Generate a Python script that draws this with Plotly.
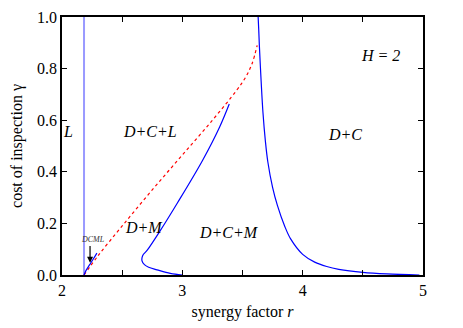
import plotly.graph_objects as go

# L boundary (vertical)
l_r = [2.183, 2.183]
l_g = [0.0, 1.0]

# red dotted boundary
red_r = [2.183, 2.3, 2.5, 2.75, 3.0, 3.25, 3.45, 3.53, 3.58, 3.622]
red_g = [0.0, 0.075, 0.19, 0.33, 0.465, 0.60, 0.715, 0.77, 0.82, 0.89]

# small DCML boundary segment
dcml_r = [2.183, 2.2, 2.23, 2.26, 2.29]
dcml_g = [0.0, 0.018, 0.04, 0.062, 0.085]

# D+M boundary
dm_r = [3.0, 2.9, 2.79, 2.72, 2.685, 2.665, 2.67, 2.71, 2.81, 2.96, 3.17, 3.31, 3.39]
dm_g = [0.0, 0.006, 0.02, 0.03, 0.04, 0.055, 0.075, 0.097, 0.167, 0.28, 0.446, 0.574, 0.663]

# D+C boundary
dc_r = [3.63, 3.635, 3.64, 3.655, 3.67, 3.69, 3.71, 3.75, 3.79, 3.85, 3.9, 4.0, 4.1, 4.2, 4.3, 4.5, 4.7, 4.97]
dc_g = [1.0, 0.95, 0.89, 0.75, 0.63, 0.52, 0.44, 0.34, 0.27, 0.19, 0.14, 0.08, 0.05, 0.033, 0.022, 0.01, 0.004, 0.0]

x_tickvals = [2, 2.5, 3, 3.5, 4, 4.5, 5]
x_ticktext = ["2", "", "3", "", "4", "", "5"]
y_tickvals = [0, 0.2, 0.4, 0.6, 0.8, 1.0]
y_ticktext = ["0.0", "0.2", "0.4", "0.6", "0.8", "1.0"]

FONT = "Liberation Serif"

fig = go.Figure()
fig.add_trace(go.Scatter(x=l_r, y=l_g, mode="lines", line=dict(color="#9a9aff", width=2)))
fig.add_trace(go.Scatter(x=red_r, y=red_g, mode="lines", line=dict(color="#ff0000", width=1.2, dash="dot", shape="spline")))
fig.add_trace(go.Scatter(x=dcml_r, y=dcml_g, mode="lines", line=dict(color="#0000ff", width=1.2, shape="spline")))
fig.add_trace(go.Scatter(x=dm_r, y=dm_g, mode="lines", line=dict(color="#0000ff", width=1.2, shape="spline")))
fig.add_trace(go.Scatter(x=dc_r, y=dc_g, mode="lines", line=dict(color="#0000ff", width=1.2, shape="spline")))

labels = [
    (2.05, 0.555, "<i>L</i>", 16),
    (2.73, 0.555, "<i>D+C+L</i>", 16),
    (4.35, 0.545, "<i>D+C</i>", 16),
    (4.65, 0.85, "<i>H = 2</i>", 16),
    (2.68, 0.186, "<i>D+M</i>", 16),
    (3.39, 0.163, "<i>D+C+M</i>", 16),
]
for x, y, t, s in labels:
    fig.add_annotation(x=x, y=y, text=t, showarrow=False,
                       font=dict(family=FONT, size=s, color="black"))

fig.add_annotation(x=2.233, y=0.047, ax=2.233, ay=0.118, axref="x", ayref="y",
                   text="", showarrow=True, arrowhead=2, arrowsize=1, arrowwidth=1.2,
                   arrowcolor="black")
fig.add_annotation(x=2.26, y=0.136, text="<i>DCML</i>", showarrow=False,
                   font=dict(family=FONT, size=8, color="#333333"))

axis_common = dict(showline=True, linecolor="black", linewidth=1.5, mirror="ticks",
                   ticks="inside", ticklen=5, tickcolor="black", tickwidth=1,
                   showgrid=False, zeroline=False, automargin=False,
                   tickfont=dict(family=FONT, size=16, color="black"))

fig.update_layout(
    width=463, height=328,
    margin=dict(l=54, r=48, t=9, b=61, autoexpand=False),
    paper_bgcolor="white", plot_bgcolor="white",
    showlegend=False,
    font=dict(family=FONT),
    xaxis=dict(range=[2, 5], tickmode="array", tickvals=x_tickvals, ticktext=x_ticktext,
               title=dict(text="synergy factor <i>r</i>", font=dict(family=FONT, size=16, color="black"), standoff=8),
               **axis_common),
    yaxis=dict(range=[0, 1], tickmode="array", tickvals=y_tickvals, ticktext=y_ticktext,
               title=dict(text="cost of inspection γ", font=dict(family=FONT, size=16, color="black"), standoff=13),
               **axis_common),
)

fig.write_html("out.html")
